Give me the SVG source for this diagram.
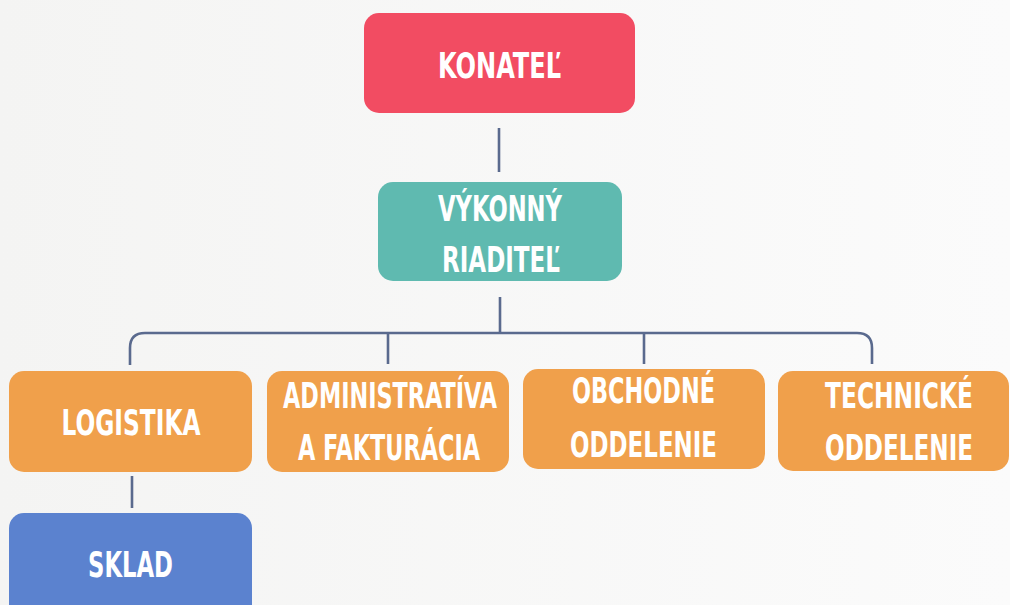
<svg xmlns="http://www.w3.org/2000/svg" width="1010" height="605" viewBox="0 0 1010 605">
<defs>
<linearGradient id="bg" x1="0" y1="0" x2="1" y2="0">
<stop offset="0" stop-color="#f4f4f3"/>
<stop offset="1" stop-color="#fbfbfb"/>
</linearGradient>
</defs>
<style>
.t{font-family:"DejaVu Sans","Liberation Sans",sans-serif;font-stretch:condensed;font-weight:bold;font-size:35px;fill:#ffffff;text-anchor:middle}
.c{fill:none;stroke:#5a6a8e;stroke-width:2.6;stroke-linecap:butt}
.red{fill:#f24c62}
.teal{fill:#5fbab0}
.org{fill:#f0a04b}
.blue{fill:#5b82cf}
</style>
<rect width="1010" height="605" fill="url(#bg)"/>
<g id="connectors">
<path class="c" d="M499 128 V172"/>
<path class="c" d="M500 297 V333"/>
<path class="c" d="M130 365 V348 Q130 333 145 333 H857 Q872 333 872 348 V364"/>
<path class="c" d="M388 333 V364"/>
<path class="c" d="M644 333 V364"/>
<path class="c" d="M132 476 V508"/>
</g>
<g id="konatel">
<rect class="red" x="364" y="13" width="271" height="100" rx="15"/>
<text class="t" x="499.5" y="78" textLength="123" lengthAdjust="spacingAndGlyphs">KONATEĽ</text>
</g>
<g id="vykonny-riaditel">
<rect class="teal" x="378" y="182" width="244" height="99" rx="15"/>
<text class="t" x="500" y="221" textLength="124" lengthAdjust="spacingAndGlyphs">VÝKONNÝ</text>
<text class="t" x="501" y="272" textLength="118" lengthAdjust="spacingAndGlyphs">RIADITEĽ</text>
</g>
<g id="logistika">
<rect class="org" x="9" y="371" width="243" height="101" rx="15"/>
<text class="t" x="131" y="435" textLength="139" lengthAdjust="spacingAndGlyphs">LOGISTIKA</text>
</g>
<g id="administrativa">
<rect class="org" x="267" y="371" width="242" height="101" rx="15"/>
<text class="t" x="390" y="408" textLength="214" lengthAdjust="spacingAndGlyphs">ADMINISTRATÍVA</text>
<text class="t" x="389" y="460" textLength="182" lengthAdjust="spacingAndGlyphs">A FAKTURÁCIA</text>
</g>
<g id="obchodne">
<rect class="org" x="523" y="369" width="242" height="100" rx="15"/>
<text class="t" x="643.5" y="403" textLength="143" lengthAdjust="spacingAndGlyphs">OBCHODNÉ</text>
<text class="t" x="643.5" y="457" textLength="147" lengthAdjust="spacingAndGlyphs">ODDELENIE</text>
</g>
<g id="technicke">
<rect class="org" x="778" y="371" width="231" height="100" rx="15"/>
<text class="t" transform="translate(899 408) scale(0.8 1)" x="0" y="0" textLength="185" lengthAdjust="spacingAndGlyphs">TECHNICKÉ</text>
<text class="t" transform="translate(899 460) scale(0.8 1)" x="0" y="0" textLength="185" lengthAdjust="spacingAndGlyphs">ODDELENIE</text>
</g>
<g id="sklad">
<rect class="blue" x="9" y="513" width="243" height="110" rx="15"/>
<text class="t" x="130.5" y="577" textLength="85" lengthAdjust="spacingAndGlyphs">SKLAD</text>
</g>
</svg>
